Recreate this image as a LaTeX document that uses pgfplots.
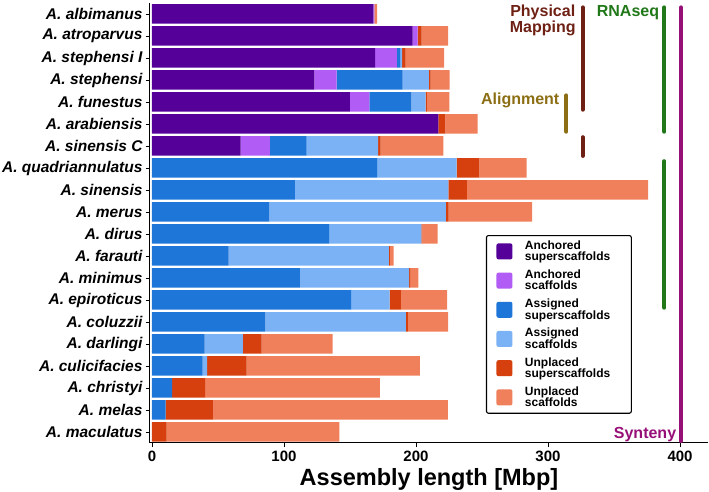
\documentclass[border=0pt]{standalone}
\usepackage{fontspec}
\setmainfont{Liberation Sans}
\usepackage{pgfplots}
\usepackage{pgfplotstable}
\pgfplotsset{compat=1.18}

\definecolor{anchSup}{RGB}{84,0,153}
\definecolor{anchSca}{RGB}{176,92,245}
\definecolor{assSup}{RGB}{31,118,217}
\definecolor{assSca}{RGB}{122,178,245}
\definecolor{unpSup}{RGB}{214,64,15}
\definecolor{unpSca}{RGB}{240,128,92}
\definecolor{physcol}{RGB}{110,32,20}
\definecolor{aligncol}{RGB}{140,110,20}
\definecolor{rnacol}{RGB}{32,120,24}
\definecolor{syncol}{RGB}{150,16,120}

% y = 19 - row (row 0 = A. albimanus at top)
\pgfplotstableread{
y  a1    a2   b1    b2    c1   c2
19 167.7 0.8  0     0     0    2.0
18 197.5 3.8  0     0     3.0  20.0
17 169.0 16.6 2.3   1.5   2.8  29.1
16 123.0 16.9 50.0  19.9  1.3  14.3
15 150.0 14.6 31.9  10.8  1.0  16.9
14 216.9 0    0     0     5.3  24.4
13 67.2  22.2 27.8  54.2  1.8  47.6
12 0     0    170.5 60.3  17.2 35.8
11 0     0    108.3 116.2 14.1 137.2
10 0     0    88.9  133.8 2.1  63.2
9  0     0    134.1 69.9  0.8  11.5
8  0     0    58.1  121.4 0.8  2.8
7  0     0    112.1 82.6  0.8  6.3
6  0     0    150.8 29.2  8.5  35.0
5  0     0    85.9  106.5 1.5  30.4
4  0     0    39.9  29.0  14.2 53.8
3  0     0    38.4  3.3   30.0 131.2
2  0     0    15.2  0     25.0 132.4
1  0     0    10.4  0     35.8 178.0
0  0     0    0     0     11.1 130.8
}\asm

\begin{document}
\begin{tikzpicture}
\begin{axis}[
  scale only axis, width=558pt, height=440pt,
  xbar stacked, bar width=19.5pt,
  xmin=-1.5, xmax=421.2, ymin=-0.5, ymax=19.5,
  axis x line*=bottom, axis y line*=left,
  axis line style={line width=1pt, black},
  xtick={0,100,200,300,400},
  ytick={0,...,19},
  yticklabels={{A. maculatus},{A. melas},{A. christyi},{A. culicifacies},{A. darlingi},{A. coluzzii},{A. epiroticus},{A. minimus},{A. farauti},{A. dirus},{A. merus},{A. sinensis},{A. quadriannulatus},{A. sinensis C},{A. arabiensis},{A. funestus},{A. stephensi},{A. stephensi I},{A. atroparvus},{A. albimanus}},
  tick align=outside, major tick length=4pt,
  tick style={black, line width=0.8pt},
  /pgf/number format/assume math mode=true,
  x tick label style={font=\bfseries\fontsize{15}{18}\selectfont},
  y tick label style={font=\bfseries\itshape\fontsize{15.5}{18}\selectfont},
  xlabel={Assembly length [Mbp]},
  xlabel style={font=\bfseries\fontsize{23.5}{26}\selectfont,
    at={(axis description cs:0.5,0)}, anchor=base, yshift=-42.5pt},
  clip=false,
  legend cell align=left,
  legend image code/.code={\fill[#1] (0pt,-8pt) rectangle (16pt,8pt);},
  legend style={at={(0.602,0.4727)}, anchor=north west, draw=black,
    line width=1.1pt, rounded corners=2pt, fill=white,
    inner xsep=10pt, inner ysep=4pt, row sep=5.5pt,
    font=\bfseries\fontsize{12}{11.5}\selectfont,
    nodes={align=left, inner sep=1pt},
    /tikz/every odd column/.append style={column sep=11.5pt}},
]
\addplot[fill=anchSup, draw=none] table[x=a1,y=y]{\asm};
\addlegendentry{Anchored\\superscaffolds\hspace*{10pt}}
\addplot[fill=anchSca, draw=none] table[x=a2,y=y]{\asm};
\addlegendentry{Anchored\\scaffolds}
\addplot[fill=assSup, draw=none] table[x=b1,y=y]{\asm};
\addlegendentry{Assigned\\superscaffolds}
\addplot[fill=assSca, draw=none] table[x=b2,y=y]{\asm};
\addlegendentry{Assigned\\scaffolds}
\addplot[fill=unpSup, draw=none] table[x=c1,y=y]{\asm};
\addlegendentry{Unplaced\\superscaffolds}
\addplot[fill=unpSca, draw=none] table[x=c2,y=y]{\asm};
\addlegendentry{Unplaced\\scaffolds}
\end{axis}
\begin{axis}[
  scale only axis, width=558pt, height=440pt,
  xmin=-1.5, xmax=421.2, ymin=-0.5, ymax=19.5,
  hide axis, clip=false,
]
\addplot[no marks, line width=4pt, color=physcol, line cap=round] coordinates {(326.3,19.3) (326.3,14.65)};
\addplot[no marks, line width=4pt, color=physcol, line cap=round] coordinates {(326.3,13.4) (326.3,12.55)};
\addplot[no marks, line width=4pt, color=aligncol, line cap=round] coordinates {(313.9,15.3) (313.9,13.65)};
\addplot[no marks, line width=4pt, color=rnacol, line cap=round] coordinates {(388.1,19.3) (388.1,13.65)};
\addplot[no marks, line width=4pt, color=rnacol, line cap=round] coordinates {(388.1,12.31) (388.1,5.65)};
\addplot[no marks, line width=4pt, color=syncol, line cap=round] coordinates {(400.8,19.3) (400.8,-0.41)};
\node[anchor=base, inner sep=0pt, text=physcol, font=\bfseries\fontsize{16}{18}\selectfont] at (axis cs:296,18.877) {Physical};
\node[anchor=base, inner sep=0pt, text=physcol, font=\bfseries\fontsize{16}{18}\selectfont] at (axis cs:296,18.17) {Mapping};
\node[anchor=base, inner sep=0pt, text=rnacol, font=\bfseries\fontsize{16}{18}\selectfont] at (axis cs:360.6,18.877) {RNAseq};
\node[anchor=base, inner sep=0pt, text=aligncol, font=\bfseries\fontsize{16}{18}\selectfont] at (axis cs:278.9,14.864) {Alignment};
\node[anchor=base, inner sep=0pt, text=syncol, font=\bfseries\fontsize{16}{18}\selectfont] at (axis cs:373.5,-0.30) {Synteny};
\end{axis}
\pgfresetboundingbox
\path (-150pt,-49pt) rectangle (559pt,443pt);
\end{tikzpicture}
\end{document}
